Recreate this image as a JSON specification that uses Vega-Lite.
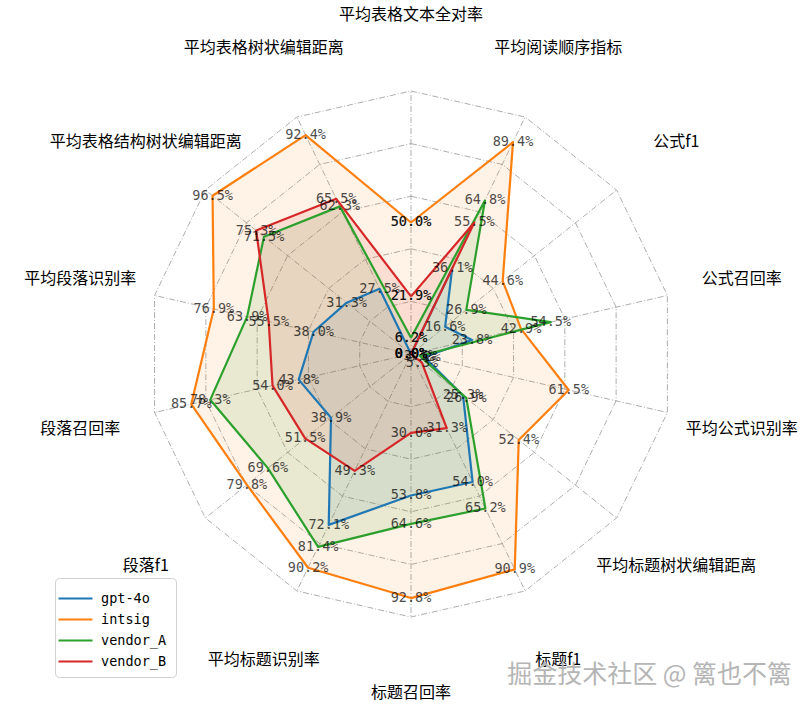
{
  "$schema": "https://vega.github.io/schema/vega-lite/v6.json",
  "width": 812,
  "height": 709,
  "padding": 0,
  "autosize": "none",
  "background": "white",
  "config": {"view": {"stroke": null}},
  "title": {"text": "掘金技术社区 @ 篱也不篱", "orient": "bottom", "anchor": "end", "offset": -46, "dx": -20, "fontSize": 25, "fontWeight": "normal", "font": "Noto Sans CJK SC", "color": "#b5b5b5"},
  "datasets": {
    "axes": [
      {"i": 0, "metric": "平均表格文本全对率"},
      {"i": 1, "metric": "平均阅读顺序指标"},
      {"i": 2, "metric": "公式f1"},
      {"i": 3, "metric": "公式召回率"},
      {"i": 4, "metric": "平均公式识别率"},
      {"i": 5, "metric": "平均标题树状编辑距离"},
      {"i": 6, "metric": "标题f1"},
      {"i": 7, "metric": "标题召回率"},
      {"i": 8, "metric": "平均标题识别率"},
      {"i": 9, "metric": "段落f1"},
      {"i": 10, "metric": "段落召回率"},
      {"i": 11, "metric": "平均段落识别率"},
      {"i": 12, "metric": "平均表格结构树状编辑距离"},
      {"i": 13, "metric": "平均表格树状编辑距离"}
    ],
    "grid": [
      {"level": 0.2, "i": 0}, {"level": 0.2, "i": 1}, {"level": 0.2, "i": 2}, {"level": 0.2, "i": 3}, {"level": 0.2, "i": 4}, {"level": 0.2, "i": 5}, {"level": 0.2, "i": 6}, {"level": 0.2, "i": 7}, {"level": 0.2, "i": 8}, {"level": 0.2, "i": 9}, {"level": 0.2, "i": 10}, {"level": 0.2, "i": 11}, {"level": 0.2, "i": 12}, {"level": 0.2, "i": 13}, {"level": 0.2, "i": 14},
      {"level": 0.4, "i": 0}, {"level": 0.4, "i": 1}, {"level": 0.4, "i": 2}, {"level": 0.4, "i": 3}, {"level": 0.4, "i": 4}, {"level": 0.4, "i": 5}, {"level": 0.4, "i": 6}, {"level": 0.4, "i": 7}, {"level": 0.4, "i": 8}, {"level": 0.4, "i": 9}, {"level": 0.4, "i": 10}, {"level": 0.4, "i": 11}, {"level": 0.4, "i": 12}, {"level": 0.4, "i": 13}, {"level": 0.4, "i": 14},
      {"level": 0.6, "i": 0}, {"level": 0.6, "i": 1}, {"level": 0.6, "i": 2}, {"level": 0.6, "i": 3}, {"level": 0.6, "i": 4}, {"level": 0.6, "i": 5}, {"level": 0.6, "i": 6}, {"level": 0.6, "i": 7}, {"level": 0.6, "i": 8}, {"level": 0.6, "i": 9}, {"level": 0.6, "i": 10}, {"level": 0.6, "i": 11}, {"level": 0.6, "i": 12}, {"level": 0.6, "i": 13}, {"level": 0.6, "i": 14},
      {"level": 0.8, "i": 0}, {"level": 0.8, "i": 1}, {"level": 0.8, "i": 2}, {"level": 0.8, "i": 3}, {"level": 0.8, "i": 4}, {"level": 0.8, "i": 5}, {"level": 0.8, "i": 6}, {"level": 0.8, "i": 7}, {"level": 0.8, "i": 8}, {"level": 0.8, "i": 9}, {"level": 0.8, "i": 10}, {"level": 0.8, "i": 11}, {"level": 0.8, "i": 12}, {"level": 0.8, "i": 13}, {"level": 0.8, "i": 14},
      {"level": 1.0, "i": 0}, {"level": 1.0, "i": 1}, {"level": 1.0, "i": 2}, {"level": 1.0, "i": 3}, {"level": 1.0, "i": 4}, {"level": 1.0, "i": 5}, {"level": 1.0, "i": 6}, {"level": 1.0, "i": 7}, {"level": 1.0, "i": 8}, {"level": 1.0, "i": 9}, {"level": 1.0, "i": 10}, {"level": 1.0, "i": 11}, {"level": 1.0, "i": 12}, {"level": 1.0, "i": 13}, {"level": 1.0, "i": 14}
    ],
    "scores": [
      {"model": "gpt-4o", "i": 0, "metric": "平均表格文本全对率", "value": 0.0},
      {"model": "gpt-4o", "i": 1, "metric": "平均阅读顺序指标", "value": 36.1},
      {"model": "gpt-4o", "i": 2, "metric": "公式f1", "value": 16.6},
      {"model": "gpt-4o", "i": 3, "metric": "公式召回率", "value": 23.8},
      {"model": "gpt-4o", "i": 4, "metric": "平均公式识别率", "value": 5.2},
      {"model": "gpt-4o", "i": 5, "metric": "平均标题树状编辑距离", "value": 25.3},
      {"model": "gpt-4o", "i": 6, "metric": "标题f1", "value": 54.0},
      {"model": "gpt-4o", "i": 7, "metric": "标题召回率", "value": 53.8},
      {"model": "gpt-4o", "i": 8, "metric": "平均标题识别率", "value": 72.1},
      {"model": "gpt-4o", "i": 9, "metric": "段落f1", "value": 38.9},
      {"model": "gpt-4o", "i": 10, "metric": "段落召回率", "value": 43.8},
      {"model": "gpt-4o", "i": 11, "metric": "平均段落识别率", "value": 38.0},
      {"model": "gpt-4o", "i": 12, "metric": "平均表格结构树状编辑距离", "value": 31.3},
      {"model": "gpt-4o", "i": 13, "metric": "平均表格树状编辑距离", "value": 27.5},
      {"model": "gpt-4o", "i": 14, "metric": "平均表格文本全对率", "value": 0.0},
      {"model": "intsig", "i": 0, "metric": "平均表格文本全对率", "value": 50.0},
      {"model": "intsig", "i": 1, "metric": "平均阅读顺序指标", "value": 89.4},
      {"model": "intsig", "i": 2, "metric": "公式f1", "value": 44.6},
      {"model": "intsig", "i": 3, "metric": "公式召回率", "value": 42.9},
      {"model": "intsig", "i": 4, "metric": "平均公式识别率", "value": 61.5},
      {"model": "intsig", "i": 5, "metric": "平均标题树状编辑距离", "value": 52.4},
      {"model": "intsig", "i": 6, "metric": "标题f1", "value": 90.9},
      {"model": "intsig", "i": 7, "metric": "标题召回率", "value": 92.8},
      {"model": "intsig", "i": 8, "metric": "平均标题识别率", "value": 90.2},
      {"model": "intsig", "i": 9, "metric": "段落f1", "value": 79.8},
      {"model": "intsig", "i": 10, "metric": "段落召回率", "value": 85.7},
      {"model": "intsig", "i": 11, "metric": "平均段落识别率", "value": 76.9},
      {"model": "intsig", "i": 12, "metric": "平均表格结构树状编辑距离", "value": 96.5},
      {"model": "intsig", "i": 13, "metric": "平均表格树状编辑距离", "value": 92.4},
      {"model": "intsig", "i": 14, "metric": "平均表格文本全对率", "value": 50.0},
      {"model": "vendor_A", "i": 0, "metric": "平均表格文本全对率", "value": 6.2},
      {"model": "vendor_A", "i": 1, "metric": "平均阅读顺序指标", "value": 64.8},
      {"model": "vendor_A", "i": 2, "metric": "公式f1", "value": 26.9},
      {"model": "vendor_A", "i": 3, "metric": "公式召回率", "value": 54.5},
      {"model": "vendor_A", "i": 4, "metric": "平均公式识别率", "value": 3.5},
      {"model": "vendor_A", "i": 5, "metric": "平均标题树状编辑距离", "value": 26.9},
      {"model": "vendor_A", "i": 6, "metric": "标题f1", "value": 65.2},
      {"model": "vendor_A", "i": 7, "metric": "标题召回率", "value": 64.6},
      {"model": "vendor_A", "i": 8, "metric": "平均标题识别率", "value": 81.4},
      {"model": "vendor_A", "i": 9, "metric": "段落f1", "value": 69.6},
      {"model": "vendor_A", "i": 10, "metric": "段落召回率", "value": 78.3},
      {"model": "vendor_A", "i": 11, "metric": "平均段落识别率", "value": 63.9},
      {"model": "vendor_A", "i": 12, "metric": "平均表格结构树状编辑距离", "value": 71.5},
      {"model": "vendor_A", "i": 13, "metric": "平均表格树状编辑距离", "value": 62.3},
      {"model": "vendor_A", "i": 14, "metric": "平均表格文本全对率", "value": 6.2},
      {"model": "vendor_B", "i": 0, "metric": "平均表格文本全对率", "value": 21.9},
      {"model": "vendor_B", "i": 1, "metric": "平均阅读顺序指标", "value": 55.5},
      {"model": "vendor_B", "i": 2, "metric": "公式f1", "value": 0.0},
      {"model": "vendor_B", "i": 3, "metric": "公式召回率", "value": 0.0},
      {"model": "vendor_B", "i": 4, "metric": "平均公式识别率", "value": 0.0},
      {"model": "vendor_B", "i": 5, "metric": "平均标题树状编辑距离", "value": 5.3},
      {"model": "vendor_B", "i": 6, "metric": "标题f1", "value": 31.3},
      {"model": "vendor_B", "i": 7, "metric": "标题召回率", "value": 30.0},
      {"model": "vendor_B", "i": 8, "metric": "平均标题识别率", "value": 49.3},
      {"model": "vendor_B", "i": 9, "metric": "段落f1", "value": 51.5},
      {"model": "vendor_B", "i": 10, "metric": "段落召回率", "value": 54.0},
      {"model": "vendor_B", "i": 11, "metric": "平均段落识别率", "value": 55.5},
      {"model": "vendor_B", "i": 12, "metric": "平均表格结构树状编辑距离", "value": 75.3},
      {"model": "vendor_B", "i": 13, "metric": "平均表格树状编辑距离", "value": 65.5},
      {"model": "vendor_B", "i": 14, "metric": "平均表格文本全对率", "value": 21.9}
    ]
  },
  "layer": [
    {
      "data": {"name": "grid"},
      "transform": [
        {"calculate": "datum.i * 2 * PI / 14", "as": "t"},
        {"calculate": "datum.level * sin(datum.t)", "as": "gx"},
        {"calculate": "datum.level * cos(datum.t)", "as": "gy"}
      ],
      "mark": {"type": "line", "stroke": "#999999", "strokeWidth": 0.8, "strokeDash": [6, 2, 1, 2]},
      "encoding": {
        "x": {"field": "gx", "type": "quantitative", "scale": {"domain": [-1.5627, 1.5247], "nice": false, "zero": false}, "axis": null},
        "y": {"field": "gy", "type": "quantitative", "scale": {"domain": [-1.3498, 1.346], "nice": false, "zero": false}, "axis": null},
        "detail": {"field": "level", "type": "nominal"},
        "order": {"field": "i", "type": "quantitative"}
      }
    },
    {
      "data": {"name": "grid"},
      "transform": [
        {"filter": "datum.level == 1 && datum.i < 14"},
        {"calculate": "datum.i * 2 * PI / 14", "as": "t"},
        {"calculate": "sin(datum.t)", "as": "gx"},
        {"calculate": "cos(datum.t)", "as": "gy"},
        {"calculate": "0", "as": "cx"},
        {"calculate": "0", "as": "cy"}
      ],
      "mark": {"type": "rule", "stroke": "#999999", "strokeWidth": 0.8, "strokeDash": [6, 2, 1, 2]},
      "encoding": {
        "x": {"field": "cx", "type": "quantitative"},
        "y": {"field": "cy", "type": "quantitative"},
        "x2": {"field": "gx"},
        "y2": {"field": "gy"}
      }
    },
    {
      "data": {"name": "scores"},
      "transform": [
        {"calculate": "datum.i * 2 * PI / 14", "as": "t"},
        {"calculate": "datum.value / 100 * sin(datum.t)", "as": "px"},
        {"calculate": "datum.value / 100 * cos(datum.t)", "as": "py"}
      ],
      "mark": {"type": "line", "fillOpacity": 0.1, "strokeOpacity": 0},
      "encoding": {
        "x": {"field": "px", "type": "quantitative"},
        "y": {"field": "py", "type": "quantitative"},
        "fill": {"field": "model", "type": "nominal", "scale": {"domain": ["gpt-4o", "intsig", "vendor_A", "vendor_B"], "range": ["#1f77b4", "#ff7f0e", "#2ca02c", "#d62728"]},
          "legend": {"title": null, "orient": "none", "legendX": 55, "legendY": 578, "symbolType": "M-1.7,0H1.7", "symbolSize": 400, "symbolStrokeWidth": 2.2, "labelFont": "DejaVu Sans Mono", "labelFontSize": 13.5, "labelColor": "#000000", "strokeColor": "#d0d0d0", "fillColor": "#ffffff", "padding": 9, "cornerRadius": 4, "rowPadding": 3, "labelOffset": 14}},
        "order": {"field": "i", "type": "quantitative"}
      }
    },
    {
      "data": {"name": "scores"},
      "transform": [
        {"calculate": "datum.i * 2 * PI / 14", "as": "t"},
        {"calculate": "datum.value / 100 * sin(datum.t)", "as": "px"},
        {"calculate": "datum.value / 100 * cos(datum.t)", "as": "py"}
      ],
      "mark": {"type": "line", "strokeWidth": 2.2, "strokeJoin": "round"},
      "encoding": {
        "x": {"field": "px", "type": "quantitative"},
        "y": {"field": "py", "type": "quantitative"},
        "color": {"field": "model", "type": "nominal", "scale": {"domain": ["gpt-4o", "intsig", "vendor_A", "vendor_B"], "range": ["#1f77b4", "#ff7f0e", "#2ca02c", "#d62728"]},
          "legend": {"title": null, "orient": "none", "legendX": 55, "legendY": 578, "symbolType": "M-1.7,0H1.7", "symbolSize": 400, "symbolStrokeWidth": 2.2, "labelFont": "DejaVu Sans Mono", "labelFontSize": 13.5, "labelColor": "#000000", "strokeColor": "#d0d0d0", "fillColor": "#ffffff", "padding": 9, "cornerRadius": 4, "rowPadding": 3, "labelOffset": 14}},
        "order": {"field": "i", "type": "quantitative"}
      }
    },
    {
      "data": {"name": "scores"},
      "transform": [
        {"calculate": "datum.i * 2 * PI / 14", "as": "t"},
        {"calculate": "datum.value / 100 * sin(datum.t)", "as": "px"},
        {"calculate": "datum.value / 100 * cos(datum.t)", "as": "py"},
        {"calculate": "format(datum.value, '.1f') + '%'", "as": "lbl"}
      ],
      "mark": {"type": "text", "font": "DejaVu Sans Mono", "fontSize": 13.5, "fill": "#000000", "opacity": 0.7, "align": "center", "baseline": "middle"},
      "encoding": {
        "x": {"field": "px", "type": "quantitative"},
        "y": {"field": "py", "type": "quantitative"},
        "text": {"field": "lbl", "type": "nominal"}
      }
    },
    {
      "data": {"name": "axes"},
      "transform": [
        {"calculate": "datum.i * 2 * PI / 14", "as": "t"},
        {"calculate": "1.29 * sin(datum.t)", "as": "lx"},
        {"calculate": "1.29 * cos(datum.t)", "as": "ly"}
      ],
      "mark": {"type": "text", "font": "Noto Sans CJK SC", "fontSize": 16, "fill": "#000000", "align": "center", "baseline": "middle"},
      "encoding": {
        "x": {"field": "lx", "type": "quantitative"},
        "y": {"field": "ly", "type": "quantitative"},
        "text": {"field": "metric", "type": "nominal"}
      }
    }
  ]
}
